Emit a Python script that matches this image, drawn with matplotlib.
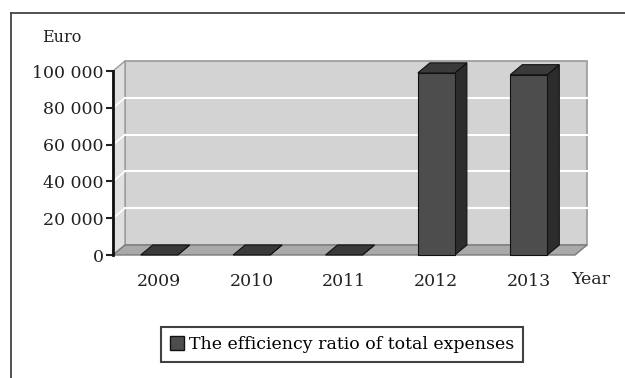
import numpy as np
import matplotlib
matplotlib.use('Agg')
import matplotlib.pyplot as plt
from matplotlib.patches import Polygon, Patch
from matplotlib.lines import Line2D
from matplotlib.ticker import FuncFormatter

years = ['2009', '2010', '2011', '2012', '2013']
values = [0, 0, 0, 99000, 98000]
series_name = 'The efficiency ratio of total expenses'
yticks = [0, 20000, 40000, 60000, 80000, 100000]

plt.rcParams['font.family'] = ['DejaVu Serif']
W, H = 625, 378
fig = plt.figure(figsize=(W/100, H/100), dpi=100)
ax = fig.add_axes([113/W, 123/H, 462/W, 184/H])
ax.set_xlim(-0.5, len(years) - 0.5)
ax.set_ylim(0, 100000)
ax.patch.set_visible(False)

# depth offset (12 px right, 10 px up) converted to data units
p0 = ax.transData.transform((0, 0))
p1 = ax.transData.transform((1, 100000))
dx = 12 / (p1[0] - p0[0])
dy = 10 / (p1[1] - p0[1]) * 100000

x0, x1 = -0.5, len(years) - 0.5
top = 100000

def poly(pts, fc, ec='none', lw=0.8, z=1):
    ax.add_patch(Polygon(pts, closed=True, facecolor=fc, edgecolor=ec,
                         linewidth=lw, zorder=z, clip_on=False))

# back wall, side wall, floor
poly([(x0+dx, dy), (x1+dx, dy), (x1+dx, top+dy), (x0+dx, top+dy)], '#d3d3d3', '#999999', 1.2, 1)
poly([(x0, 0), (x0+dx, dy), (x0+dx, top+dy), (x0, top)], '#e0e0e0', '#9a9a9a', 1.0, 1)
for v in yticks[1:-1]:
    ax.plot([x0+dx, x1+dx], [v+dy, v+dy], color='white', lw=1.5, zorder=2, clip_on=False)
    ax.plot([x0, x0+dx], [v, v+dy], color='white', lw=1.2, zorder=2, clip_on=False)
poly([(x0, 0), (x1, 0), (x1+dx, dy), (x0+dx, dy)], '#a9a9a9', '#7a7a7a', 1.0, 3)

# bars
w = 0.2
for i, v in enumerate(values):
    poly([(i+w, 0), (i+w+dx, dy), (i+w+dx, v+dy), (i+w, v)], '#2c2c2c', '#111111', 0.8, 4)
    poly([(i-w, v), (i+w, v), (i+w+dx, v+dy), (i-w+dx, v+dy)], '#3a3a3a', '#111111', 0.8, 5)
    if v > 0:
        poly([(i-w, 0), (i+w, 0), (i+w, v), (i-w, v)], '#4d4d4d', '#111111', 0.8, 5)

for s in ['top', 'right', 'bottom']:
    ax.spines[s].set_visible(False)
ax.spines['left'].set_linewidth(2)
ax.spines['left'].set_color('#111111')
ax.spines['left'].set_zorder(6)
ax.set_yticks(yticks)
ax.yaxis.set_major_formatter(FuncFormatter(lambda v, p: f'{int(v):,}'.replace(',', ' ')))
ax.tick_params(axis='y', direction='out', length=5, width=1.5, pad=1.5,
               labelsize=12.5, colors='#222222')
ax.set_xticks(range(len(years)))
ax.set_xticklabels(years)
ax.tick_params(axis='x', length=0, pad=13, labelsize=12.5, colors='#222222')

fig.text(62/W, 1-37/H, 'Euro', ha='center', va='center', fontsize=11.5, color='#222222')
fig.text(591/W, 1-280/H, 'Year', ha='center', va='center', fontsize=12.5, color='#222222')

handle = Patch(facecolor='#4d4d4d', edgecolor='#111111', linewidth=1)
leg = fig.legend([handle], [series_name], loc='center',
                 bbox_to_anchor=(342/W, 1-344.5/H), fontsize=12.5,
                 frameon=True, fancybox=False, edgecolor='#111111',
                 handlelength=0.8, handleheight=0.8, handletextpad=0.3,
                 borderpad=0.5)
leg.get_frame().set_linewidth(1.5)

# outer frame (top and left edges)
fig.add_artist(Line2D([11/W, 1], [1-13/H, 1-13/H], color='#444444', lw=1.3))
fig.add_artist(Line2D([11/W, 11/W], [1-13/H, 0], color='#444444', lw=1.3))

fig.savefig('out.png', dpi=100)
